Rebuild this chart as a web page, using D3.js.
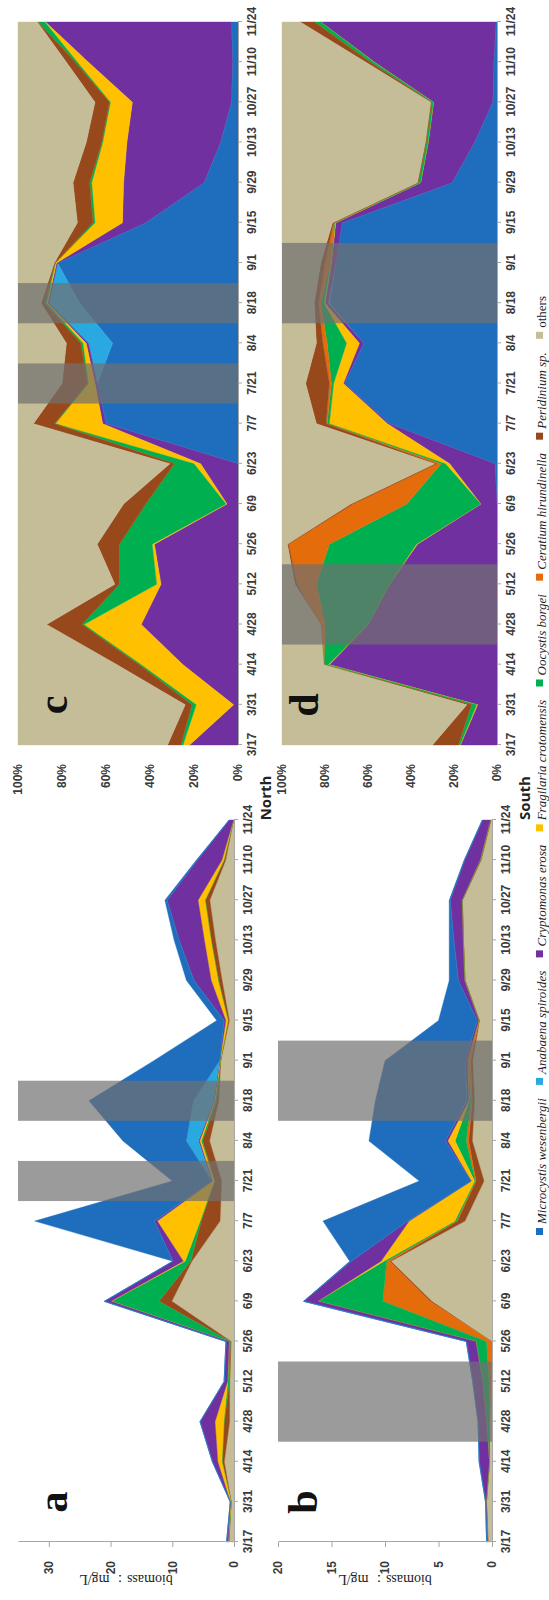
<!DOCTYPE html>
<html>
<head>
<meta charset="utf-8">
<script src="https://cdn.jsdelivr.net/npm/d3@7"></script>
<style>
  body { margin: 0; background: #fff; }
  svg { display: block; }
  .tick text { font-family: 'Liberation Sans Narrow', 'Liberation Sans', Arial, sans-serif; font-weight: bold; font-size: 12px; fill: #3a3a3a; }
</style>
</head>
<body>
<svg id="fig" width="549" height="1600"></svg>
<script>
// Sampling dates (two-week interval)
const dates = ["3/17","3/31","4/14","4/28","5/12","5/26","6/9","6/23","7/7","7/21",
               "8/4","8/18","9/1","9/15","9/29","10/13","10/27","11/10","11/24"];

const species = ["Microcystis wesenbergii","Anabaena spiroides","Cryptomonas erosa",
                 "Fragilaria crotomensis","Oocystis borgei","Ceratium hirundinella",
                 "Peridinium sp.","others"];
const speciesColors = ["#1e6ebd","#2aa8e0","#7030a0","#ffc000","#00b050","#e46c0a","#97491c","#c4bd97"];

// North station: total phytoplankton biomass (mg/L)
const northTotal = [1.2, 0.6, 3.5, 5.5, 1.6, 1.3, 21.0, 9.9, 32.3, 10.0, 18.0, 23.5, 13.0, 2.8, 7.7, 9.7, 11.2, 6.1, 0.8];
// North station: share of each taxon (%)
const nMicrocystis = [0, 0, 0, 0, 0, 0, 0, 0, 60, 64, 57, 72, 82, 42, 15.5, 8, 3, 2.5, 3];
const nAnabaena    = [0, 0, 0, 0, 0, 0, 0, 0, 0, 0, 11, 14, 0, 0, 0, 0, 0, 0, 0];
const nCryptomonas = [22, 2, 25, 44, 35, 38, 5, 17, 1.5, 1, 1, 0.5, 0.5, 10.5, 36.5, 42.5, 45, 65.5, 84.5];
const nFragilaria  = [3, 17, 19, 26, 2, 1, 0.5, 3, 21.5, 3, 1.5, 0.5, 0.5, 12.5, 14.5, 11, 10, 5, 0.3];
const nOocystis    = [1, 2, 1, 1, 17, 15, 36.5, 9, 0.5, 0.5, 1, 1, 0.2, 1, 1, 0.5, 0.5, 1, 3.2];
const nCeratium    = [0, 0, 0, 0, 0, 0, 0, 0, 0, 0, 0, 0, 0, 0, 0, 0, 0, 0, 0];
const nPeridinium  = [6, 3, 10, 16, 2, 10, 10, 2, 9.5, 11.5, 6.5, 1.5, 0.3, 7, 7.5, 7, 6.5, 4, 0.2];
const nOthers      = [68, 76, 45, 13, 44, 36, 48, 69, 7, 20, 22, 10.5, 16.5, 27, 25, 31, 35, 22, 8.8];

// South station: total phytoplankton biomass (mg/L)
const southTotal = [0.5, 0.6, 1.2, 1.3, 1.8, 2.4, 17.6, 13.3, 15.8, 6.8, 11.5, 10.9, 10.0, 5.0, 4.0, 4.0, 4.0, 2.6, 0.9];
// South station: share of each taxon (%)
const sMicrocystis = [0, 0, 0, 0, 0, 0, 0, 1, 50, 71, 62, 78, 75, 72, 21, 10.5, 2, 1.5, 0.5];
const sAnabaena    = [0, 0, 0, 0, 0, 0, 0, 0, 0, 0, 0, 0.5, 0, 0, 0, 0, 0, 0, 0];
const sCryptomonas = [17, 9, 78, 60, 50, 37, 7.5, 21, 1, 0.5, 2, 1.5, 2, 3, 14.5, 21.5, 27.5, 55.5, 81.5];
const sFragilaria  = [0.2, 0.5, 0.5, 0, 0, 0.5, 0.1, 2, 27, 4.5, 6, 0.5, 0.2, 0.3, 0.1, 0.1, 0.1, 0.2, 0];
const sOocystis    = [0.8, 2.5, 2, 20, 34, 40.5, 34.4, 2, 1, 1, 9, 1.5, 0.3, 0.3, 1.1, 0.9, 0.9, 1.8, 3];
const sCeratium    = [0, 0, 0, 2, 9, 19, 25, 2, 0.5, 1, 2, 1, 2.5, 0.4, 0, 0, 0, 0, 0];
const sPeridinium  = [12, 2, 0, 0, 1, 0.5, 1, 1, 4.5, 11, 3, 2, 2, 0.5, 0.3, 0.3, 0.3, 2, 6.5];
const sOthers      = [70, 86, 19.5, 18, 6, 2.5, 32, 71, 16, 11, 16, 15, 18, 23.5, 63, 66.7, 69.2, 39, 8.5];

// Shaded periods (one sampling slot either side of the marked dates)
const northBands = [["7/14", "7/28"], ["8/11", "8/25"]];
const southBands = [["4/21", "5/19"], ["8/11", "9/8"]];

const valueTicksA = [0, 10, 20, 30];
const valueTicksB = [0, 5, 10, 15, 20];
const pctTicks = [0, 0.2, 0.4, 0.6, 0.8, 1];

const northPcts = [nMicrocystis, nAnabaena, nCryptomonas, nFragilaria, nOocystis, nCeratium, nPeridinium, nOthers];
const southPcts = [sMicrocystis, sAnabaena, sCryptomonas, sFragilaria, sOocystis, sCeratium, sPeridinium, sOthers];

const parse = d3.timeParse("%m/%d/%Y");
const toDate = s => parse(s + "/2010");
const fmtDate = d3.timeFormat("%-m/%-d");
const color = d3.scaleOrdinal(species, speciesColors);

// One row per date; biomass of each taxon = total × share
function buildRows(total, pcts) {
  return dates.map((d, i) => {
    const row = { date: toDate(d) };
    const s = d3.sum(pcts, p => p[i]);
    species.forEach((k, j) => { row[k] = total ? total[i] * pcts[j][i] / s : pcts[j][i]; });
    return row;
  });
}

const svg = d3.select("#fig");
// The figure is laid out in landscape (1600 × 549) and turned a quarter turn.
const root = svg.append("g").attr("transform", "translate(0,1600) rotate(-90)");

function drawPanel(o) {
  const g = root.append("g");
  const x = d3.scaleTime()
    .domain([toDate(dates[0]), toDate(dates[dates.length - 1])])
    .range([o.x0, o.x1]);
  const y = d3.scaleLinear().domain([0, o.yMax]).range([o.yBase, o.yTop]);

  const stack = d3.stack().keys(o.keys);
  if (o.pct) stack.offset(d3.stackOffsetExpand);
  const layers = stack(o.rows);

  const area = d3.area()
    .x(d => x(d.data.date))
    .y0(d => y(d[0]))
    .y1(d => y(d[1]));

  g.selectAll("path.layer").data(layers).join("path")
    .attr("class", "layer")
    .attr("d", area)
    .attr("fill", d => color(d.key))
    .attr("stroke", d => color(d.key))
    .attr("stroke-width", 0.4);

  g.selectAll("rect.band").data(o.bands).join("rect")
    .attr("class", "band")
    .attr("x", b => x(toDate(b[0])))
    .attr("width", b => x(toDate(b[1])) - x(toDate(b[0])))
    .attr("y", o.yTop)
    .attr("height", o.yBase - o.yTop)
    .attr("fill", "rgb(112,112,112)")
    .attr("fill-opacity", 0.7);

  // category axis
  const xAxis = d3.axisBottom(x)
    .tickValues(dates.map(toDate))
    .tickFormat(fmtDate)
    .tickSize(4).tickSizeOuter(0).tickPadding(5);
  const gx = g.append("g").attr("transform", `translate(0,${o.yBase})`).call(xAxis);
  gx.select(".domain").attr("stroke", "#a6a6a6");
  gx.selectAll(".tick line").attr("stroke", "#a6a6a6");

  // value axis
  const yAxis = d3.axisLeft(y)
    .tickValues(o.ticks)
    .tickFormat(o.pct ? d3.format(".0%") : d3.format("d"))
    .tickSize(o.pct ? 0 : 5).tickSizeOuter(0).tickPadding(o.pct ? 19 : 14);
  const gy = g.append("g").attr("transform", `translate(${o.x0},0)`).call(yAxis);
  if (o.pct) gy.select(".domain").remove();
  else gy.select(".domain").attr("stroke", "#a6a6a6");
  gy.selectAll(".tick line").attr("stroke", "#a6a6a6");

  // panel letter
  g.append("text")
    .attr("x", o.x0 + 40).attr("y", o.letterY)
    .attr("text-anchor", "middle")
    .attr("font-family", "'Liberation Serif', 'DejaVu Serif', serif")
    .attr("font-weight", "bold").attr("font-size", 42)
    .attr("fill", "#111")
    .text(o.letter);

  if (o.yTitle) {
    g.append("text")
      .attr("transform", `translate(${o.x0 - 38},${(o.yTop + o.yBase) / 2}) rotate(-90)`)
      .attr("text-anchor", "middle")
      .attr("dy", "0.35em")
      .attr("font-family", "'Liberation Serif', 'DejaVu Serif', serif")
      .attr("font-size", 14).attr("fill", "#222")
      .text(o.yTitle);
  }
}

const bioKeys = species.slice().reverse();
const northRows = buildRows(northTotal, northPcts);
const southRows = buildRows(southTotal, southPcts);
const northShare = buildRows(null, northPcts);
const southShare = buildRows(null, southPcts);

drawPanel({ x0: 58, x1: 780, yTop: 18, yBase: 234, yMax: 35, ticks: valueTicksA,
            rows: northRows, keys: bioKeys, bands: northBands, letter: "a", letterY: 67,
            yTitle: "biomass\uFF1A mg/L" });
drawPanel({ x0: 58, x1: 780, yTop: 278, yBase: 492, yMax: 20, ticks: valueTicksB,
            rows: southRows, keys: bioKeys, bands: southBands, letter: "b", letterY: 317,
            yTitle: "biomass\uFF1A mg/L" });
drawPanel({ x0: 855, x1: 1578, yTop: 18, yBase: 238, yMax: 1, ticks: pctTicks, pct: true,
            rows: northShare, keys: species, bands: northBands, letter: "c", letterY: 67 });
drawPanel({ x0: 855, x1: 1578, yTop: 282, yBase: 497, yMax: 1, ticks: pctTicks, pct: true,
            rows: southShare, keys: species, bands: southBands, letter: "d", letterY: 318 });

// Row titles, set under each row between the two columns
const titleFont = "'Open Sans', 'Liberation Sans', sans-serif";
root.append("text").attr("x", 802).attr("y", 271)
  .attr("text-anchor", "middle")
  .attr("font-family", titleFont)
  .attr("font-weight", "bold").attr("font-size", 15).attr("fill", "#222")
  .text("North");
root.append("text").attr("x", 802).attr("y", 530)
  .attr("text-anchor", "middle")
  .attr("font-family", titleFont)
  .attr("font-weight", "bold").attr("font-size", 15).attr("fill", "#222")
  .text("South");

// Legend along the bottom
const legend = root.append("g").attr("transform", "translate(0,541)");
const items = legend.selectAll("g.item").data(species).join("g").attr("class", "item");
items.append("rect")
  .attr("width", 7).attr("height", 7).attr("y", -5)
  .attr("fill", d => color(d));
items.append("text")
  .attr("x", 11).attr("y", 1).attr("dy", "0.3em")
  .attr("font-family", "'Liberation Serif', 'DejaVu Serif', serif")
  .attr("font-style", d => d === "others" ? "normal" : "italic")
  .attr("font-size", 13).attr("fill", "#222")
  .text(d => d);
const widths = [];
items.each(function () { widths.push(11 + this.querySelector("text").getComputedTextLength()); });
const legendStart = 365, legendEnd = 1304;
const gap = (legendEnd - legendStart - d3.sum(widths)) / (widths.length - 1);
let cursor = legendStart;
items.each(function (d, i) {
  d3.select(this).attr("transform", `translate(${cursor},0)`);
  cursor += widths[i] + gap;
});
</script>
</body>
</html>
